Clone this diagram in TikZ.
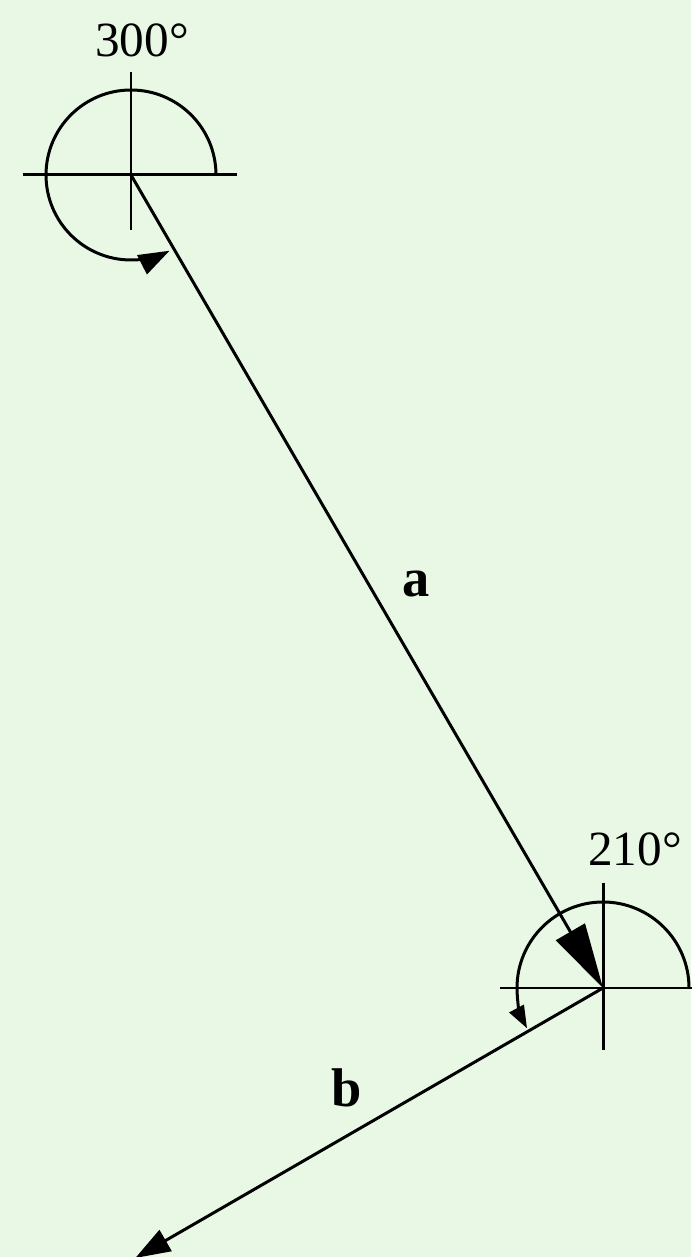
\documentclass[tikz,border=0pt]{standalone}
\usepackage{fontspec}
\setmainfont{Liberation Serif}
\usetikzlibrary{arrows.meta,calc}
\definecolor{bgpaper}{RGB}{232,248,228}

\begin{document}
\begin{tikzpicture}[
    x=0.02cm, y=0.02cm,
    line width=1.7pt,
    axis/.style={line width=1.7pt},
    turn/.style={line width=1.7pt},
    angletext/.style={font=\fontsize{28}{30}\selectfont, anchor=base, inner sep=0pt},
    vectext/.style={font=\fontsize{31}{33}\selectfont\bfseries, anchor=base, inner sep=0pt}
]

% Paper
\fill[bgpaper] (0,0) rectangle (691,1257);
\useasboundingbox (0,0) rectangle (691,1257);

% Turning points
\coordinate (ptA) at (131,1082);
\coordinate (ptB) at (603,269);
\coordinate (endB) at ($(ptB)+(210:540)$);

% Cross at A
\draw[axis] ($(ptA)+(-108,0)$) -- ($(ptA)+(106,0)$);
\draw[axis] ($(ptA)+(0,103)$) -- ($(ptA)+(0,-55)$);
\draw[turn, -{Triangle[length=0.62cm,width=0.42cm]}] ($(ptA)+(85,0)$) arc[start angle=0, end angle=297, radius=85];
\node[angletext] (angA) at (142,1200) {300°};

% Cross at B
\draw[axis] ($(ptB)+(-103,0)$) -- ($(ptB)+(95,0)$);
\draw[axis] ($(ptB)+(0,105)$) -- ($(ptB)+(0,-62)$);
\draw[turn, -{Triangle[length=0.45cm,width=0.32cm]}] ($(ptB)+(86,0)$) arc[start angle=0, end angle=208, radius=86];
\node[angletext] (angB) at (635,391) {210°};

% Legs
\draw[-{Triangle[length=1.3cm,width=0.66cm]}] (ptA) -- (ptB);
\draw[-{Triangle[length=0.7cm,width=0.48cm]}] (ptB) -- (endB);
\node[vectext] (labA) at (416,660) {a};
\node[vectext] (labB) at (347,150) {b};

\end{tikzpicture}
\end{document}
